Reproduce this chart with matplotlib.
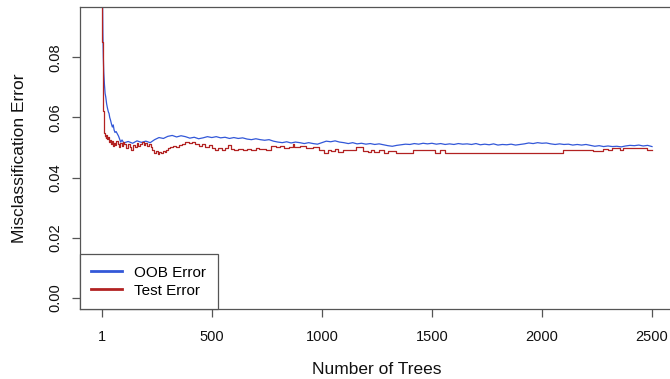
"""
    Random forest: OOB error and test error against the number of trees
"""

import numpy as np
import matplotlib
matplotlib.use("Agg")
import matplotlib.pyplot as plt

plt.rcParams['font.family'] = ['Liberation Sans', 'DejaVu Sans']

oob_trees = [1, 2, 3, 4, 5, 7, 9, 12, 15, 18, 22, 26, 30, 33, 36, 40, 44, 48, 52,
             56, 60, 65, 71, 76, 80, 86, 92,
             100, 120, 140, 160, 180, 200, 220, 240, 260, 280, 300, 320, 340, 360,
             380, 400, 420, 440, 460, 480, 500, 520, 540, 560, 580, 600, 620, 640,
             660, 680, 700, 720, 740, 760, 780, 800, 820, 840, 860, 880, 900, 920,
             940, 960, 980, 1000, 1020, 1040, 1060, 1080, 1100, 1120, 1140, 1160,
             1180, 1200, 1220, 1240, 1260, 1280, 1300, 1320, 1340, 1360, 1380, 1400,
             1420, 1440, 1460, 1480, 1500, 1520, 1540, 1560, 1580, 1600, 1620, 1640,
             1660, 1680, 1700, 1720, 1740, 1760, 1780, 1800, 1820, 1840, 1860, 1880,
             1900, 1920, 1940, 1960, 1980, 2000, 2020, 2040, 2060, 2080, 2100, 2120,
             2140, 2160, 2180, 2200, 2220, 2240, 2260, 2280, 2300, 2320, 2340, 2360,
             2380, 2400, 2420, 2440, 2460, 2480, 2500]
oob_err = [0.160, 0.125, 0.105, 0.094, 0.088, 0.080, 0.075, 0.071, 0.068, 0.0668,
           0.0645, 0.0630, 0.0618, 0.0613, 0.0600, 0.0590, 0.0578, 0.0568, 0.0575,
           0.0558, 0.0550, 0.0553, 0.0545, 0.0538, 0.0530, 0.0518, 0.0525,
           0.0515, 0.0520, 0.0514, 0.0522, 0.0517, 0.0521, 0.0516, 0.0526, 0.0533,
           0.0530, 0.0537, 0.0540, 0.0535, 0.0539, 0.0536, 0.0531, 0.0534, 0.0529,
           0.0532, 0.0536, 0.0533, 0.0536, 0.0532, 0.0534, 0.0530, 0.0533, 0.0530,
           0.0532, 0.0528, 0.0526, 0.0529, 0.0526, 0.0524, 0.0526, 0.0521, 0.0518,
           0.0516, 0.0519, 0.0515, 0.0518, 0.0516, 0.0513, 0.0516, 0.0513, 0.0511,
           0.0516, 0.0521, 0.0519, 0.0522, 0.0518, 0.0516, 0.0513, 0.0516, 0.0512,
           0.0514, 0.0511, 0.0513, 0.0510, 0.0512, 0.0509, 0.0506, 0.0504, 0.0507,
           0.0509, 0.0511, 0.0510, 0.0513, 0.0511, 0.0514, 0.0512, 0.0514, 0.0511,
           0.0513, 0.0510, 0.0512, 0.0510, 0.0513, 0.0511, 0.0512, 0.0510, 0.0513,
           0.0509, 0.0511, 0.0509, 0.0512, 0.0508, 0.0510, 0.0509, 0.0511, 0.0508,
           0.0510, 0.0512, 0.0515, 0.0513, 0.0516, 0.0514, 0.0515, 0.0512, 0.0510,
           0.0512, 0.0510, 0.0511, 0.0508, 0.0510, 0.0508, 0.0510, 0.0507, 0.0504,
           0.0506, 0.0503, 0.0505, 0.0503, 0.0504, 0.0502, 0.0505, 0.0507, 0.0506,
           0.0508, 0.0505, 0.0507, 0.0503]

# test error, a step function of the tree count
test_trees = [1, 2, 3, 4, 5, 6, 8, 10, 12, 14, 17, 20, 24, 28, 32, 36, 40, 45, 50,
              55, 60, 66, 72, 78, 84, 90, 96, 102, 110, 118, 126, 134, 142, 150, 158,
              166, 174, 182, 190, 198, 206, 214, 222, 230, 238, 246, 254, 262, 270,
              278, 286, 294, 302, 312, 322, 335, 350, 365, 380, 395, 410, 425, 440,
              455, 470, 485, 500, 515, 530, 545, 560, 575, 585, 600, 620, 640, 660,
              680, 700, 716, 745, 770, 790, 810, 830, 850, 870, 875, 900, 930, 960,
              989, 1010, 1030, 1042, 1060, 1075, 1095, 1156, 1186, 1210, 1225, 1239,
              1260, 1280, 1300, 1338, 1412, 1512, 1535, 1558, 2096, 2232, 2277, 2300,
              2320, 2354, 2370, 2476, 2500]
test_err = [0.140, 0.100, 0.085, 0.072, 0.066, 0.062, 0.059, 0.0557, 0.0548, 0.0538,
            0.0530, 0.0540, 0.0528, 0.0535, 0.0518, 0.0526, 0.0512, 0.0520, 0.0505,
            0.0515, 0.0508, 0.0522, 0.0512, 0.0500, 0.0515, 0.0505, 0.0518, 0.0510,
            0.0498, 0.0512, 0.0503, 0.0493, 0.0508, 0.0500, 0.0515, 0.0505, 0.0512,
            0.0517, 0.0508, 0.0514, 0.0505, 0.0512, 0.0501, 0.0490, 0.0482, 0.0488,
            0.0478, 0.0485, 0.0480, 0.0488, 0.0484, 0.0492, 0.0497, 0.0500, 0.0505,
            0.0501, 0.0507, 0.0512, 0.0517, 0.0515, 0.0518, 0.0510, 0.0505, 0.0510,
            0.0500, 0.0507, 0.0498, 0.0493, 0.0497, 0.0490, 0.0497, 0.0507, 0.0495,
            0.0492, 0.0496, 0.0490, 0.0495, 0.0493, 0.0497, 0.0494, 0.0490, 0.0505,
            0.0500, 0.0505, 0.0497, 0.0503, 0.0512, 0.0500, 0.0504, 0.0499, 0.0502,
            0.0490, 0.0482, 0.0490, 0.0488, 0.0494, 0.0486, 0.0490, 0.0501, 0.0489,
            0.0484, 0.0492, 0.0485, 0.0490, 0.0483, 0.0489, 0.0481, 0.0492, 0.0482,
            0.0492, 0.0482, 0.0492, 0.0488, 0.0495, 0.0490, 0.0497, 0.0493, 0.0497,
            0.0493, 0.0493]

x_ticks = [1, 500, 1000, 1500, 2000, 2500]
y_ticks = [0.00, 0.02, 0.04, 0.06, 0.08]

OOB_COL = '#3358d8'
TEST_COL = '#b22222'
AX_COL = '#555555'

fig = plt.figure(figsize=(6.70, 3.79), dpi=100)
ax = fig.add_axes([0.1194, 0.1847, 0.8866, 0.7968])

ax.plot(oob_trees, oob_err, color=OOB_COL, lw=0.9, label='OOB Error')
ax.plot(test_trees, test_err, color=TEST_COL, lw=0.9, drawstyle='steps-post',
        label='Test Error')

ax.set_xlim(-99, 2600)
ax.set_ylim(-0.0037, 0.0967)

ax.set_xticks(x_ticks)
ax.set_xticklabels([str(t) for t in x_ticks])
ax.set_yticks(y_ticks)
ax.set_yticklabels(['%.2f' % v for v in y_ticks], rotation=90, va='center')

ax.tick_params(axis='both', direction='out', length=6, width=0.9, color=AX_COL,
               labelsize=10.5, labelcolor='#111111')
ax.tick_params(axis='x', pad=9)
ax.tick_params(axis='y', pad=7)
for s in ax.spines.values():
    s.set_color(AX_COL)
    s.set_linewidth(0.9)

ax.set_xlabel('Number of Trees', fontsize=12.5, color='#111111', labelpad=13)
ax.set_ylabel('Misclassification Error', fontsize=12.5, color='#111111', labelpad=15)

leg_handles = [plt.Line2D([], [], color=OOB_COL, lw=2),
               plt.Line2D([], [], color=TEST_COL, lw=2)]
leg = ax.legend(leg_handles, ['OOB Error', 'Test Error'], loc='lower left',
                bbox_to_anchor=(0, 0), borderaxespad=0, fancybox=False,
                framealpha=1, edgecolor=AX_COL, fontsize=11, handlelength=2.0,
                handletextpad=0.8, labelspacing=0.25, borderpad=0.75)
leg.get_frame().set_linewidth(0.9)

fig.savefig('out.png', dpi=100)
